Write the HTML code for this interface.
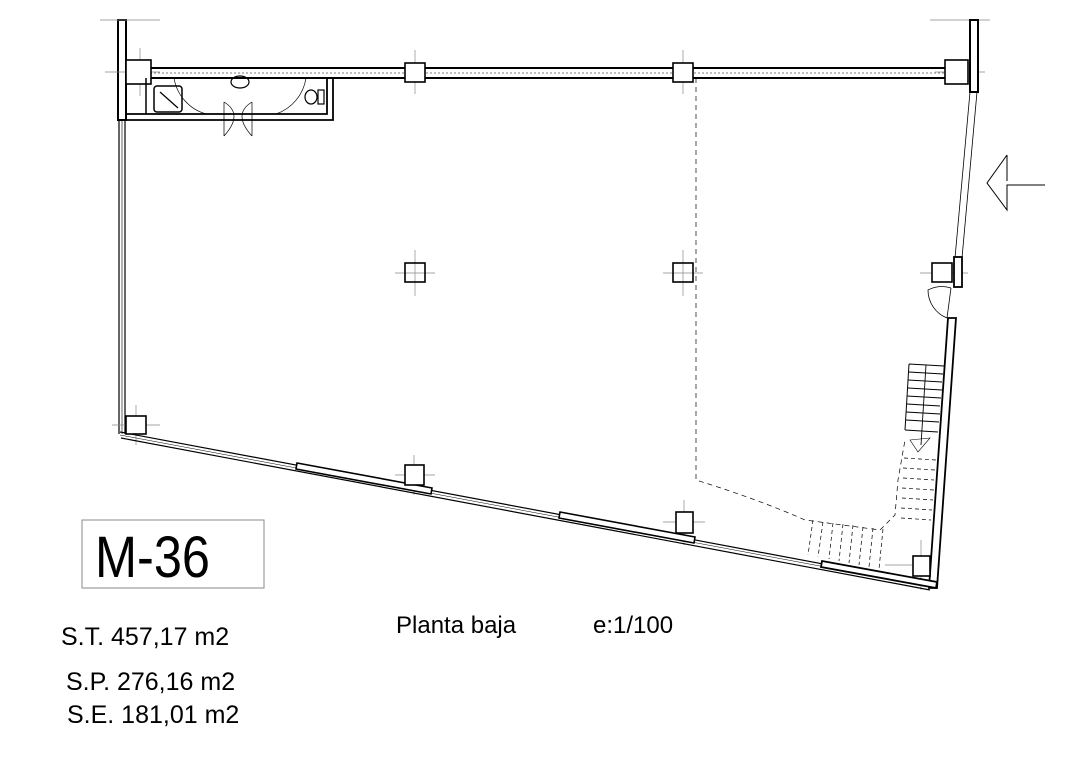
<!DOCTYPE html>
<html><head><meta charset="utf-8"><style>
html,body{margin:0;padding:0;background:#fff;}
svg{display:block}
text{font-family:"Liberation Sans",sans-serif;fill:#000}
</style></head><body>
<svg width="1086" height="768" viewBox="0 0 1086 768" xmlns="http://www.w3.org/2000/svg">
<g fill="none" stroke="#000" stroke-width="1.2">
<rect x="118" y="20" width="8" height="100" fill="#fff" stroke-width="2"/>
<line x1="119" y1="120" x2="119" y2="434"/><line x1="122" y1="120" x2="122" y2="434" stroke-width="0.6"/><line x1="125" y1="120" x2="125" y2="434"/>
<g stroke="#888" stroke-width="0.7">
<line x1="100" y1="20" x2="160" y2="20"/><line x1="105" y1="72" x2="160" y2="72"/><line x1="140" y1="48" x2="140" y2="96"/>
<line x1="930" y1="20" x2="990" y2="20"/><line x1="935" y1="72" x2="985" y2="72"/>
<line x1="395" y1="273" x2="435" y2="273"/><line x1="415" y1="250" x2="415" y2="296"/>
<line x1="663" y1="273" x2="703" y2="273"/><line x1="683" y1="250" x2="683" y2="296"/>
<line x1="415" y1="50" x2="415" y2="94"/><line x1="683" y1="50" x2="683" y2="94"/>
<line x1="920" y1="273" x2="968" y2="273"/>
<line x1="112" y1="425" x2="160" y2="425"/><line x1="136" y1="405" x2="136" y2="445"/>
<line x1="395" y1="475" x2="435" y2="475"/><line x1="414" y1="455" x2="414" y2="495"/>
<line x1="663" y1="522" x2="705" y2="522"/><line x1="684" y1="500" x2="684" y2="545"/>
<line x1="885" y1="565" x2="940" y2="565"/><line x1="921" y1="540" x2="921" y2="590"/>
</g>
<line x1="150" y1="68" x2="948" y2="68" stroke-width="2"/>
<line x1="150" y1="78" x2="948" y2="78" stroke-width="2"/>
<line x1="150" y1="73" x2="948" y2="73" stroke-dasharray="2 2" stroke-width="0.6"/>
<rect x="126" y="60" width="25" height="24" fill="#fff" stroke-width="1.6"/>
<rect x="405" y="63" width="20" height="19" fill="#fff" stroke-width="1.6"/>
<rect x="673" y="63" width="20" height="19" fill="#fff" stroke-width="1.6"/>
<rect x="945" y="60" width="23" height="24" fill="#fff" stroke-width="1.6"/>
<rect x="970" y="20" width="8" height="72" fill="#fff" stroke-width="2"/>
<line x1="970" y1="92" x2="955" y2="258" stroke-width="0.8"/><line x1="977" y1="92" x2="962" y2="258" stroke-width="0.8"/>
<rect x="932" y="263" width="20" height="19" fill="#fff" stroke-width="1.6"/>
<rect x="954" y="257" width="8" height="30" fill="#fff" stroke-width="1.8"/>
<path d="M951 288 L947 318 M951 288 A30 30 0 0 0 928 290 A30 30 0 0 0 947 318" stroke-width="0.8"/>
<polygon points="948,318 956,318 937,588 929,588" fill="#fff" stroke-width="1.8"/>
<rect x="405" y="263" width="20" height="19" stroke-width="1.6"/>
<rect x="673" y="263" width="20" height="19" stroke-width="1.6"/>
<path d="M126 120 L333 120 L333 78 M126 114 L327 114 L327 78" stroke-width="1.8"/>
<path d="M146 78 L146 114" stroke-width="1.5"/>
<rect x="154" y="86" width="28" height="26" rx="3" stroke-width="1.5"/>
<line x1="160" y1="92" x2="178" y2="108"/>
<ellipse cx="240" cy="82" rx="9" ry="6"/>
<ellipse cx="311" cy="97" rx="6" ry="7"/><rect x="318" y="90" width="6" height="14"/>
<path d="M174 78 A45 45 0 0 0 206 114 M306 78 A45 45 0 0 1 276 114" stroke-width="0.7"/>
<path d="M224 102 Q244 114 224 136 M252 102 Q232 114 252 136 M224 102 L224 136 M252 102 L252 136" stroke-width="0.7"/>
<line x1="120" y1="432" x2="935" y2="585"/>
<line x1="121" y1="438" x2="930" y2="590"/>
<line x1="120" y1="435" x2="932" y2="587" stroke-width="0.5"/>
<polygon points="297,463 432,488 431,494 296,469" fill="#fff" stroke-width="1.6"/>
<polygon points="560,512 695,537 694,543 559,518" fill="#fff" stroke-width="1.6"/>
<polygon points="822,561 937,582 936,588 821,567" fill="#fff" stroke-width="1.8"/>
<rect x="126" y="416" width="20" height="18" fill="#fff" stroke-width="1.6"/>
<rect x="405" y="465" width="19" height="20" fill="#fff" stroke-width="1.6"/>
<rect x="676" y="512" width="17" height="21" fill="#fff" stroke-width="1.6"/>
<rect x="913" y="556" width="17" height="20" fill="#fff" stroke-width="1.6"/>
<path d="M696 78 L696 480 Q760 500 805 520 L880 530 L895 515 L898 480 L905 440" stroke-dasharray="5 4" stroke-width="0.7"/>
<path d="M909 364 L944 366 M905 430 L938 432 M909 364 L905 430" stroke-width="1"/>
<g stroke-width="0.9">
<line x1="909" y1="372" x2="943" y2="374"/><line x1="908" y1="380" x2="942" y2="382"/><line x1="908" y1="388" x2="942" y2="390"/><line x1="907" y1="396" x2="941" y2="398"/><line x1="907" y1="404" x2="940" y2="406"/><line x1="906" y1="412" x2="940" y2="414"/><line x1="906" y1="420" x2="939" y2="422"/>
<line x1="926" y1="365" x2="921" y2="445"/>
<path d="M910 440 L930 438 L918 452 Z" stroke-width="0.6"/>
</g>
<g stroke-width="0.7" stroke-dasharray="4 3">
<line x1="904" y1="458" x2="936" y2="460"/><line x1="903" y1="468" x2="935" y2="470"/><line x1="903" y1="478" x2="934" y2="480"/><line x1="902" y1="488" x2="934" y2="490"/><line x1="902" y1="498" x2="933" y2="500"/><line x1="901" y1="508" x2="932" y2="510"/><line x1="901" y1="518" x2="931" y2="520"/>
<line x1="813" y1="520" x2="808" y2="555"/><line x1="823" y1="522" x2="818" y2="557"/><line x1="833" y1="523" x2="829" y2="559"/><line x1="843" y1="524" x2="839" y2="561"/><line x1="853" y1="525" x2="849" y2="563"/><line x1="863" y1="527" x2="859" y2="565"/><line x1="873" y1="528" x2="869" y2="567"/><line x1="883" y1="529" x2="879" y2="569"/>
</g>
<path d="M1007 155 L987 183 L1007 210 L1007 185 L1045 185 M1007 181 L1007 155" stroke-width="1"/>
<rect x="82" y="520" width="182" height="68" stroke="#888" stroke-width="1"/>
</g>
<text x="95" y="577" font-size="58" textLength="115" lengthAdjust="spacingAndGlyphs">M-36</text>
<text x="61" y="645" font-size="25">S.T. 457,17 m2</text>
<text x="66" y="690" font-size="25">S.P. 276,16 m2</text>
<text x="67" y="723" font-size="25">S.E. 181,01 m2</text>
<text x="396" y="633" font-size="24">Planta baja</text>
<text x="593" y="633" font-size="24">e:1/100</text>
</svg>
</body></html>
